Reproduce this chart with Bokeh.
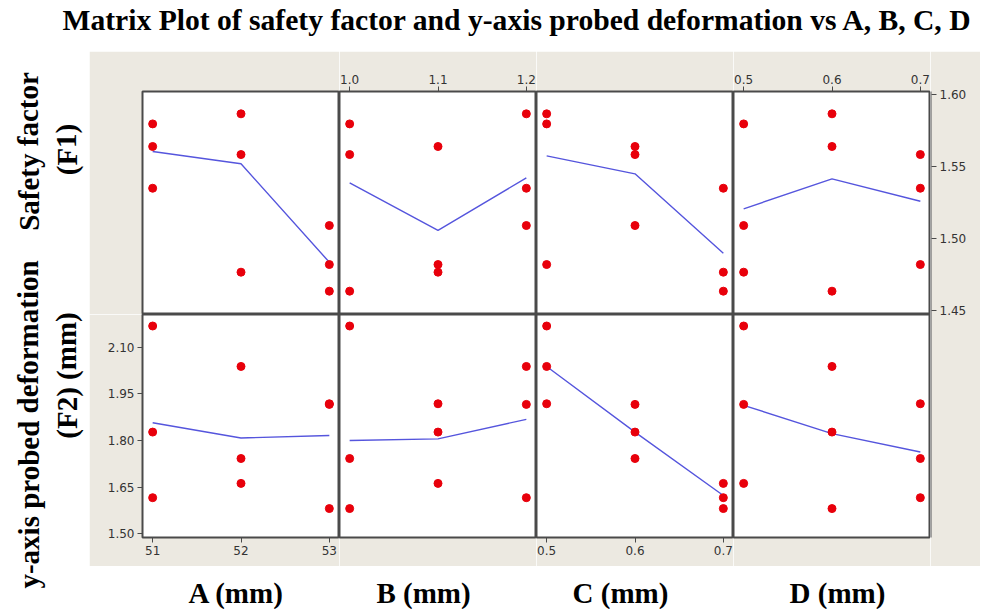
from bokeh.plotting import figure
from bokeh.models import Range1d, LinearAxis, FixedTicker, NumeralTickFormatter, Spacer
from bokeh.layouts import row, column
from bokeh.core.properties import value
from bokeh.embed import file_html
from bokeh.resources import INLINE

# ---------------- data (9 runs, L9 design) ----------------
A = [51, 51, 51, 52, 52, 52, 53, 53, 53]
B = [1.0, 1.1, 1.2, 1.0, 1.1, 1.2, 1.0, 1.1, 1.2]
C = [0.5, 0.6, 0.7, 0.6, 0.7, 0.5, 0.7, 0.5, 0.6]
D = [0.5, 0.6, 0.7, 0.7, 0.5, 0.6, 0.6, 0.7, 0.5]
F1 = [1.5796, 1.5639, 1.5349, 1.5583, 1.4766, 1.5866, 1.4634, 1.4819, 1.5090]
F2 = [2.168, 1.827, 1.616, 1.742, 1.662, 2.038, 1.581, 1.918, 1.916]

A_levels = [51, 52, 53]
B_levels = [1.0, 1.1, 1.2]
C_levels = [0.5, 0.6, 0.7]
D_levels = [0.5, 0.6, 0.7]

# smoother lines
F1_smooth_A = [1.5604, 1.5519, 1.4835]
F1_smooth_B = [1.5387, 1.5056, 1.5421]
F1_smooth_C = [1.5574, 1.5449, 1.4898]
F1_smooth_D = [1.5206, 1.5414, 1.5259]
F2_smooth_A = [1.857, 1.808, 1.816]
F2_smooth_B = [1.800, 1.805, 1.868]
F2_smooth_C = [2.038, 1.827, 1.623]
F2_smooth_D = [1.913, 1.822, 1.763]

F1_ticks = [1.45, 1.50, 1.55, 1.60]
F2_ticks = [1.50, 1.65, 1.80, 1.95, 2.10]
F1_range = (1.4472, 1.6021)
F2_range = (1.488, 2.205)

title_text = "Matrix Plot of safety factor and y-axis probed deformation  vs A, B, C, D"
row_labels = [("Safety factor", "(F1)"), ("y-axis probed deformation", "(F2) (mm)")]
col_labels = ["A (mm)", "B (mm)", "C (mm)", "D (mm)"]

# ---------------- styling ----------------
BEIGE = "#ECE9E1"
EDGE = "#4a4a4a"
DOT = "#e8000b"
LINE = "#5555dd"
SERIF = value("Liberation Serif")
TICKFONT = dict(major_label_text_font="DejaVu Sans", major_label_text_font_size="12px",
                major_label_text_color="#333333", major_label_standoff=3)


def xr(levels):
    step = levels[1] - levels[0]
    return (levels[0] - 0.115 * step, levels[-1] + 0.115 * step)


def make_panel(xrange_, yrange_, w, h, bl=0, br=0, bt=0, bb=0):
    p = figure(width=w, height=h, x_range=Range1d(*xrange_), y_range=Range1d(*yrange_),
               toolbar_location=None, output_backend="svg",
               x_axis_location=None, y_axis_location=None,
               min_border_left=bl, min_border_right=br, min_border_top=bt, min_border_bottom=bb,
               background_fill_color="white", border_fill_color=BEIGE,
               outline_line_color=EDGE, outline_line_width=2)
    p.grid.visible = False
    return p


def add_axis(p, loc, ticks, fmt):
    ax = LinearAxis(ticker=FixedTicker(ticks=ticks), formatter=NumeralTickFormatter(format=fmt),
                    axis_line_color=None, major_tick_line_color=EDGE,
                    major_tick_out=5, major_tick_in=0, minor_tick_line_color=None, **TICKFONT)
    p.add_layout(ax, loc)


def draw(p, xs, ys, levels, smooth):
    p.line(levels, smooth, line_color=LINE, line_width=1.4)
    p.scatter(xs, ys, size=8, fill_color=DOT, line_color=DOT)


FW = 197
FH = 223
LB, RB, TB, BB = 53, 49, 40, 29

xs_all = [A, B, C, D]
lev_all = [A_levels, B_levels, C_levels, D_levels]
sm1 = [F1_smooth_A, F1_smooth_B, F1_smooth_C, F1_smooth_D]
sm2 = [F2_smooth_A, F2_smooth_B, F2_smooth_C, F2_smooth_D]

top_figs = []
bot_figs = []
for i in range(4):
    bl = LB if i == 0 else 0
    w = FW + bl
    pt = make_panel(xr(lev_all[i]), F1_range, w, FH + TB, bl=bl, bt=TB)
    draw(pt, xs_all[i], F1, lev_all[i], sm1[i])
    pb = make_panel(xr(lev_all[i]), F2_range, w, FH + BB, bl=bl, bb=BB)
    draw(pb, xs_all[i], F2, lev_all[i], sm2[i])
    top_figs.append(pt)
    bot_figs.append(pb)

add_axis(top_figs[1], "above", B_levels, "0.0")
add_axis(top_figs[3], "above", D_levels, "0.0")
add_axis(bot_figs[0], "left", F2_ticks, "0.00")
add_axis(bot_figs[0], "below", A_levels, "0")
add_axis(bot_figs[2], "below", C_levels, "0.0")

# right-hand F1 axis: a 1px frame spanning both rows, same F1 scale as the top row
f1_span = F1_range[1] - F1_range[0]
right_yr = (F1_range[1] - f1_span * (2 * FH) / FH, F1_range[1])
rf = figure(width=1 + RB, height=2 * FH + TB + BB, x_range=Range1d(0, 1), y_range=Range1d(*right_yr),
            toolbar_location=None, output_backend="svg",
            x_axis_location=None, y_axis_location=None,
            min_border_left=0, min_border_right=RB, min_border_top=TB, min_border_bottom=BB,
            background_fill_color=EDGE, border_fill_color=BEIGE, outline_line_color=None)
rf.grid.visible = False
add_axis(rf, "right", F1_ticks, "0.00")


def text_fig(w, h):
    p = figure(width=w, height=h, x_range=Range1d(0, w), y_range=Range1d(0, h),
               toolbar_location=None, output_backend="svg",
               x_axis_location=None, y_axis_location=None, min_border=0,
               background_fill_color="white", border_fill_color="white",
               outline_line_color=None)
    p.grid.visible = False
    return p


# title
tf = text_fig(1000, 51)
tf.text(x=[62], y=[51 - 19], text=[title_text], text_font=SERIF, text_font_style="bold",
        text_font_size="29.6px", text_align="left", text_baseline="middle", text_color="black")

# left row labels (rotated)
lf = text_fig(89, 558)
lf.text(x=[28, 66], y=[558 - 100, 558 - 98], text=list(row_labels[0]), angle=1.5708,
        text_font=SERIF, text_font_style="bold", text_font_size="29px",
        text_align="center", text_baseline="middle", text_color="black")
lf.text(x=[28, 66], y=[558 - 373, 558 - 324], text=list(row_labels[1]), angle=1.5708,
        text_font=SERIF, text_font_style="bold", text_font_size="29px",
        text_align="center", text_baseline="middle", text_color="black")

# bottom column labels
bf = text_fig(911, 43)
bf.text(x=[236 - 89, 423 - 89, 620 - 89, 837 - 89], y=[43 - 26] * 4, text=col_labels,
        text_font=SERIF, text_font_style="bold", text_font_size="29px",
        text_align="center", text_baseline="middle", text_color="black")

grid = column(row(*top_figs), row(*bot_figs))
layout = column(tf, row(lf, column(row(grid, rf, Spacer(width=20, height=2 * FH + TB + BB)), bf)))

open("out.html", "w").write(file_html(layout, INLINE))
